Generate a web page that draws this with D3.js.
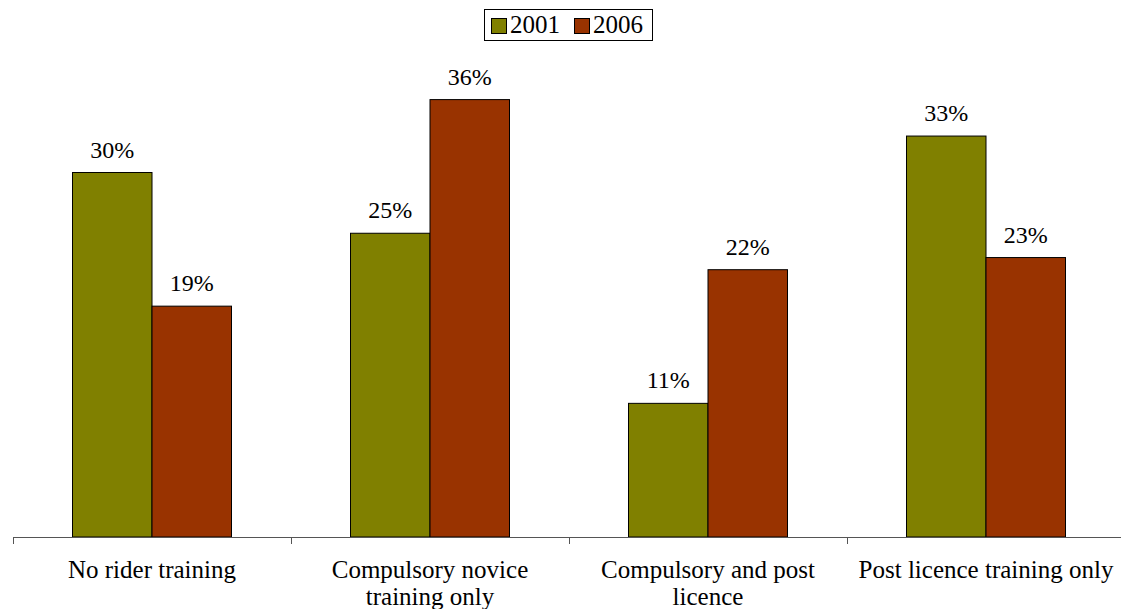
<!DOCTYPE html>
<html>
<head>
<meta charset="utf-8">
<script src="https://cdn.jsdelivr.net/npm/d3@7/dist/d3.min.js"></script>
<style>
  html, body { margin: 0; padding: 0; background: #fff; }
</style>
</head>
<body>
<svg id="chart" width="1121" height="609"></svg>
<script>
// Rider training categories and the share of riders in each, by survey year
const categories = ["No rider training", "Compulsory novice training only", "Compulsory and post licence", "Post licence training only"];
// Label lines for each category, broken where the axis labels wrap
const categoryLines = [["No rider training"], ["Compulsory novice", "training only"], ["Compulsory and post", "licence"], ["Post licence training only"]];
const seriesNames = ["2001", "2006"];
const values2001 = [30, 25, 11, 33];
const values2006 = [19, 36, 22, 23];
const colors = ["#808000", "#993300"];

const svg = d3.select("#chart");
const axisY = 537;
const FONT = '"Liberation Serif", "Times New Roman", serif';

const rows = categories.map((c, i) => ({ category: c, values: [values2001[i], values2006[i]], lines: categoryLines[i] }));

// Category bands run past the right edge, as in the original layout
const x0 = d3.scaleBand().domain(categories).range([13, 13 + 278 * 4]).paddingInner(0).paddingOuter(0);
const x1 = d3.scaleBand().domain(seriesNames).range([0, 159]);
const y = d3.scaleLinear().domain([0, 40]).range([axisY, axisY - 40 * 12.15]);

const groups = svg.append("g").selectAll("g").data(rows).join("g")
  .attr("transform", d => `translate(${x0(d.category) + (x0.bandwidth() - 159) / 2},0)`);

groups.selectAll("rect").data(d => d.values.map((v, j) => ({ v, s: seriesNames[j], j })))
  .join("rect")
  .attr("x", d => x1(d.s))
  .attr("y", d => y(d.v))
  .attr("width", x1.bandwidth())
  .attr("height", d => axisY - y(d.v))
  .attr("fill", d => colors[d.j])
  .attr("stroke", "#000")
  .attr("stroke-width", 1);

groups.selectAll("text.val").data(d => d.values.map((v, j) => ({ v, s: seriesNames[j] })))
  .join("text")
  .attr("class", "val")
  .attr("x", d => x1(d.s) + x1.bandwidth() / 2)
  .attr("y", d => y(d.v) - 15)
  .attr("text-anchor", "middle")
  .style("font-family", FONT)
  .style("font-size", "24px")
  .attr("fill", "#000")
  .text(d => d.v + "%");

// Category axis with ticks at band boundaries
const axisG = svg.append("g");
axisG.append("line")
  .attr("x1", x0.range()[0]).attr("x2", x0.range()[1])
  .attr("y1", axisY + 0.5).attr("y2", axisY + 0.5)
  .attr("stroke", "#555").attr("stroke-width", 1);
axisG.selectAll("line.tick").data(categories)
  .join("line").attr("class", "tick")
  .attr("x1", d => Math.round(x0(d)) + 0.5).attr("x2", d => Math.round(x0(d)) + 0.5)
  .attr("y1", axisY).attr("y2", axisY + 7)
  .attr("stroke", "#555");

axisG.selectAll("text.cat").data(rows)
  .join("text").attr("class", "cat")
  .style("font-family", FONT)
  .style("font-size", "25px")
  .attr("text-anchor", "middle")
  .attr("fill", "#000")
  .each(function(d) {
    const cx = x0(d.category) + x0.bandwidth() / 2;
    d3.select(this).selectAll("tspan").data(d.lines).join("tspan")
      .attr("x", cx)
      .attr("y", (l, i) => 578 + i * 27)
      .text(l => l);
  });

// Legend
const legend = svg.append("g");
legend.append("rect")
  .attr("x", 484.5).attr("y", 9.5).attr("width", 168).attr("height", 31)
  .attr("fill", "#fff").attr("stroke", "#000").attr("stroke-width", 1);
const legendX = [491, 574];
seriesNames.forEach((s, i) => {
  legend.append("rect")
    .attr("x", legendX[i] + 0.5).attr("y", 18.5).attr("width", 15).attr("height", 15)
    .attr("fill", colors[i]).attr("stroke", "#000");
  legend.append("text")
    .attr("x", legendX[i] + 19).attr("y", 33)
    .style("font-family", FONT)
    .style("font-size", "25px")
    .attr("fill", "#000")
    .text(s);
});
</script>
</body>
</html>
